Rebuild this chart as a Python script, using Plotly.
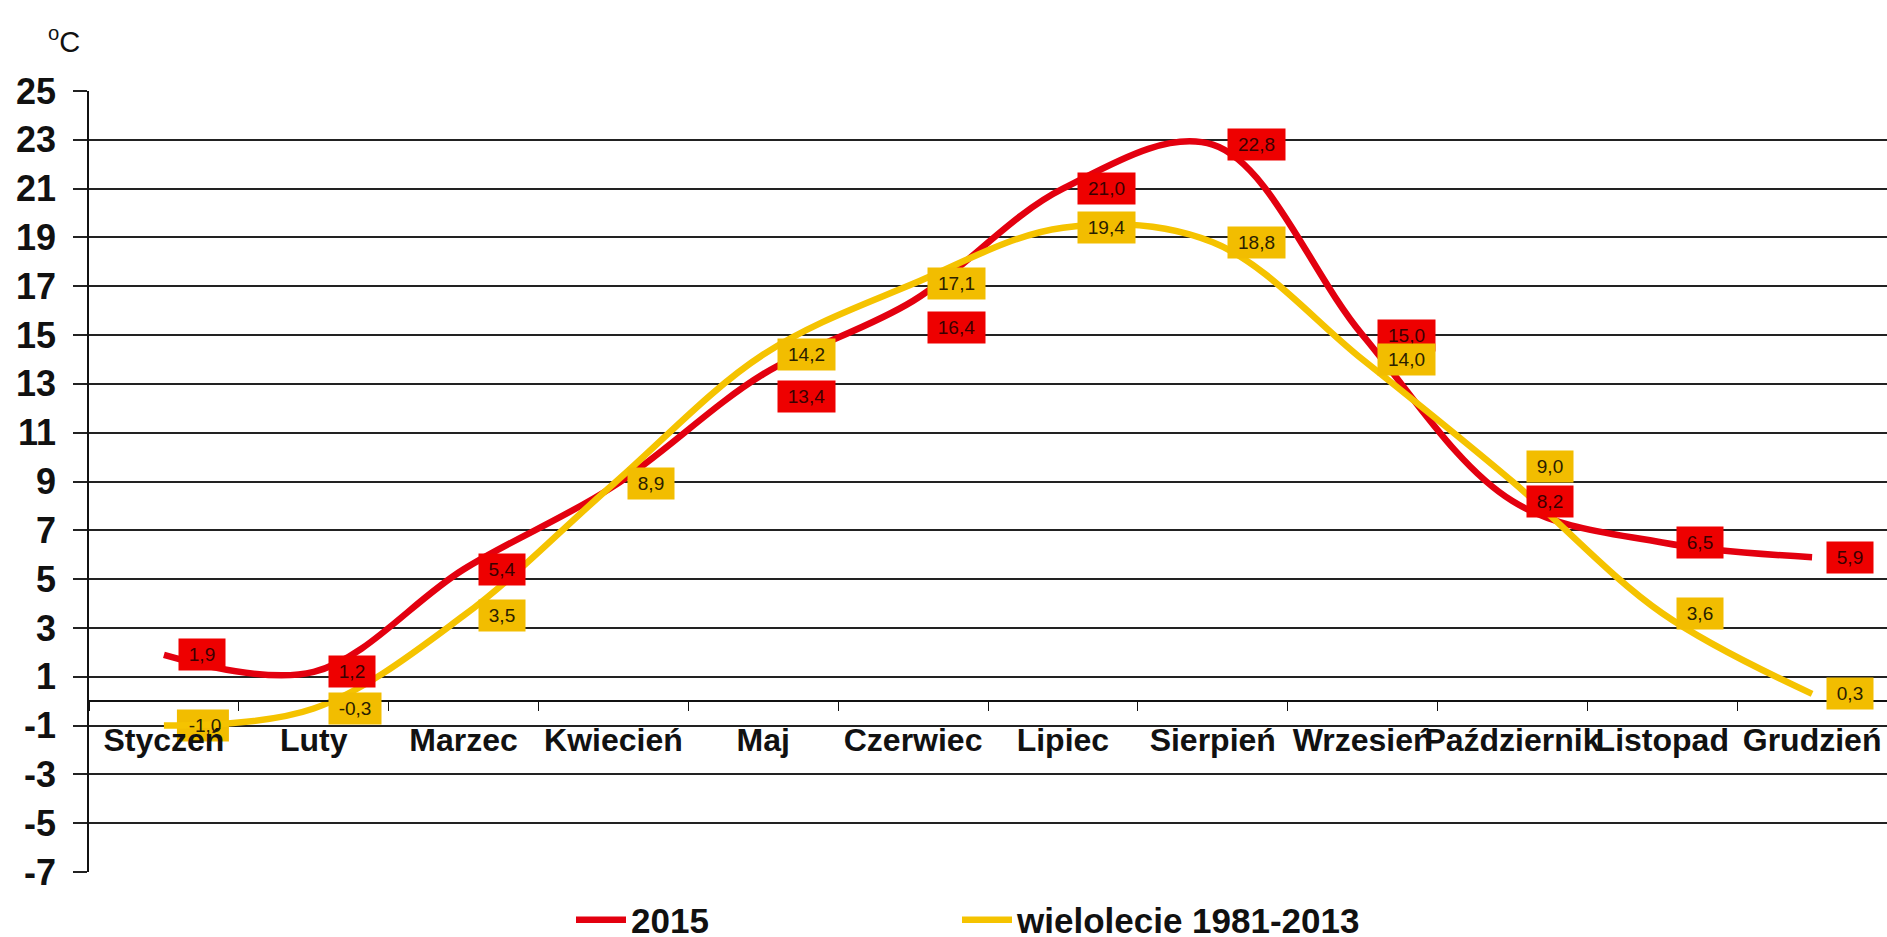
import plotly.graph_objects as go

months = ["Styczeń", "Luty", "Marzec", "Kwiecień", "Maj", "Czerwiec", "Lipiec",
          "Sierpień", "Wrzesień", "Październik", "Listopad", "Grudzień"]
t2015 = [1.9, 1.2, 5.4, 8.8, 13.4, 16.4, 21.0, 22.8, 15.0, 8.2, 6.5, 5.9]
tmulti = [-1.0, -0.3, 3.5, 8.9, 14.2, 17.1, 19.4, 18.8, 14.0, 9.0, 3.6, 0.3]
y_ticks = list(range(-7, 26, 2))
name_2015 = "2015"
name_multi = "wielolecie 1981-2013"

# style
RED_LINE = "#E3000F"
RED_BOX = "#EE0000"
YEL_LINE = "#F5C300"
YEL_BOX = "#F2BD00"
FONT = "Liberation Sans, Arial, sans-serif"

# label placement tweaks (pixels), purely presentational
red_label_shift = [0, 0, 0, None, -22, -27, 0, 0, 0, 0, 0, 0]   # None = hidden label
yel_label_shift = [0, 0, 0, 0, 0, 0, 0, 0, 0, 15, 0, 0]

W, H = 1887, 937
ML, MR, MT, MB = 89, 0, 91, 65
pw, ph = W - ML - MR, H - MT - MB

def fmt(v):
    return f"{v:.1f}".replace(".", ",")

fig = go.Figure()
fig.add_trace(go.Scatter(x=months, y=t2015, name=name_2015, mode="lines",
                         line=dict(color=RED_LINE, width=6.5, shape="spline", smoothing=1.0),
                         legend="legend"))
fig.add_trace(go.Scatter(x=months, y=tmulti, name=name_multi, mode="lines",
                         line=dict(color=YEL_LINE, width=6.5, shape="spline", smoothing=1.0),
                         legend="legend2"))

annotations = []
shapes = []

def add_label(i, v, shift, box, txtcol, under_axis=False):
    txt = fmt(v)
    w = 46 if len(txt) == 3 else (52 if txt.startswith("-") else 57)
    if under_axis:
        # box sits beneath the category tick labels, as in the original
        shapes.append(dict(type="rect", xref="x", yref="y", xsizemode="pixel", ysizemode="pixel",
                           xanchor=months[i], yanchor=v, x0=13, x1=13 + w,
                           y0=-16 + shift, y1=16 + shift,
                           fillcolor=box, line=dict(width=0), layer="between"))
        annotations.append(dict(x=months[i], y=v, xref="x", yref="y", text=txt, showarrow=False,
                                xanchor="left", yanchor="middle", xshift=14, yshift=shift,
                                borderpad=1, width=w - 2, height=29,
                                font=dict(family=FONT, size=19, color=txtcol)))
        return
    annotations.append(dict(x=months[i], y=v, xref="x", yref="y", text=txt, showarrow=False,
                            xanchor="left", yanchor="middle", xshift=14, yshift=shift,
                            bgcolor=box, borderpad=1, width=w - 2, height=29,
                            font=dict(family=FONT, size=19, color=txtcol)))

for i, v in enumerate(t2015):
    if red_label_shift[i] is None:
        continue
    add_label(i, v, red_label_shift[i], RED_BOX, "#3a0000")
for i, v in enumerate(tmulti):
    add_label(i, v, yel_label_shift[i], YEL_BOX, "#2a2000", under_axis=(i == 0))

annotations.append(dict(x=(46 - ML) / pw, y=(H - MB - 40) / ph, xref="paper", yref="paper",
                        text="<sup>o</sup>C", showarrow=False, xanchor="left", yanchor="middle",
                        font=dict(family=FONT, size=29, color="#111")))

legend_font = dict(family=FONT, size=35, color="#111", weight="bold")
fig.update_layout(
    width=W, height=H,
    margin=dict(l=ML, r=MR, t=MT, b=MB, autoexpand=False),
    paper_bgcolor="white", plot_bgcolor="white",
    showlegend=True,
    annotations=annotations,
    shapes=shapes,
    legend=dict(orientation="h", x=(571 - ML) / pw, y=(H - MB - 920) / ph,
                xanchor="left", yanchor="middle", itemwidth=50,
                font=legend_font, bgcolor="rgba(0,0,0,0)"),
    legend2=dict(orientation="h", x=(957 - ML) / pw, y=(H - MB - 920) / ph,
                 xanchor="left", yanchor="middle", itemwidth=50,
                 font=legend_font, bgcolor="rgba(0,0,0,0)"),
    xaxis=dict(type="category", categoryorder="array", categoryarray=months,
               range=[-0.5, 11.5], anchor="free", position=7 / 32, automargin=False,
               showline=True, linecolor="#111", linewidth=1.5, tickangle=0,
               ticks="outside", tickson="boundaries", ticklen=9, tickcolor="#111", tickwidth=1.2,
               showgrid=False, zeroline=False, ticklabelstandoff=11,
               tickfont=dict(family=FONT, size=32, color="#111", weight="bold")),
    yaxis=dict(range=[-7, 25], tickvals=y_ticks, ticktext=[str(t) for t in y_ticks],
               automargin=False,
               showgrid=True, gridcolor="#222", gridwidth=1.5,
               showline=True, linecolor="#111", linewidth=1.5,
               ticks="outside", ticklen=14, tickcolor="#222", tickwidth=1.5,
               zeroline=False, ticklabelstandoff=10,
               tickfont=dict(family=FONT, size=36, color="#111", weight="bold")),
)

fig.write_html("out.html", config={"displayModeBar": False},
               post_script="document.body.style.margin='0';")
